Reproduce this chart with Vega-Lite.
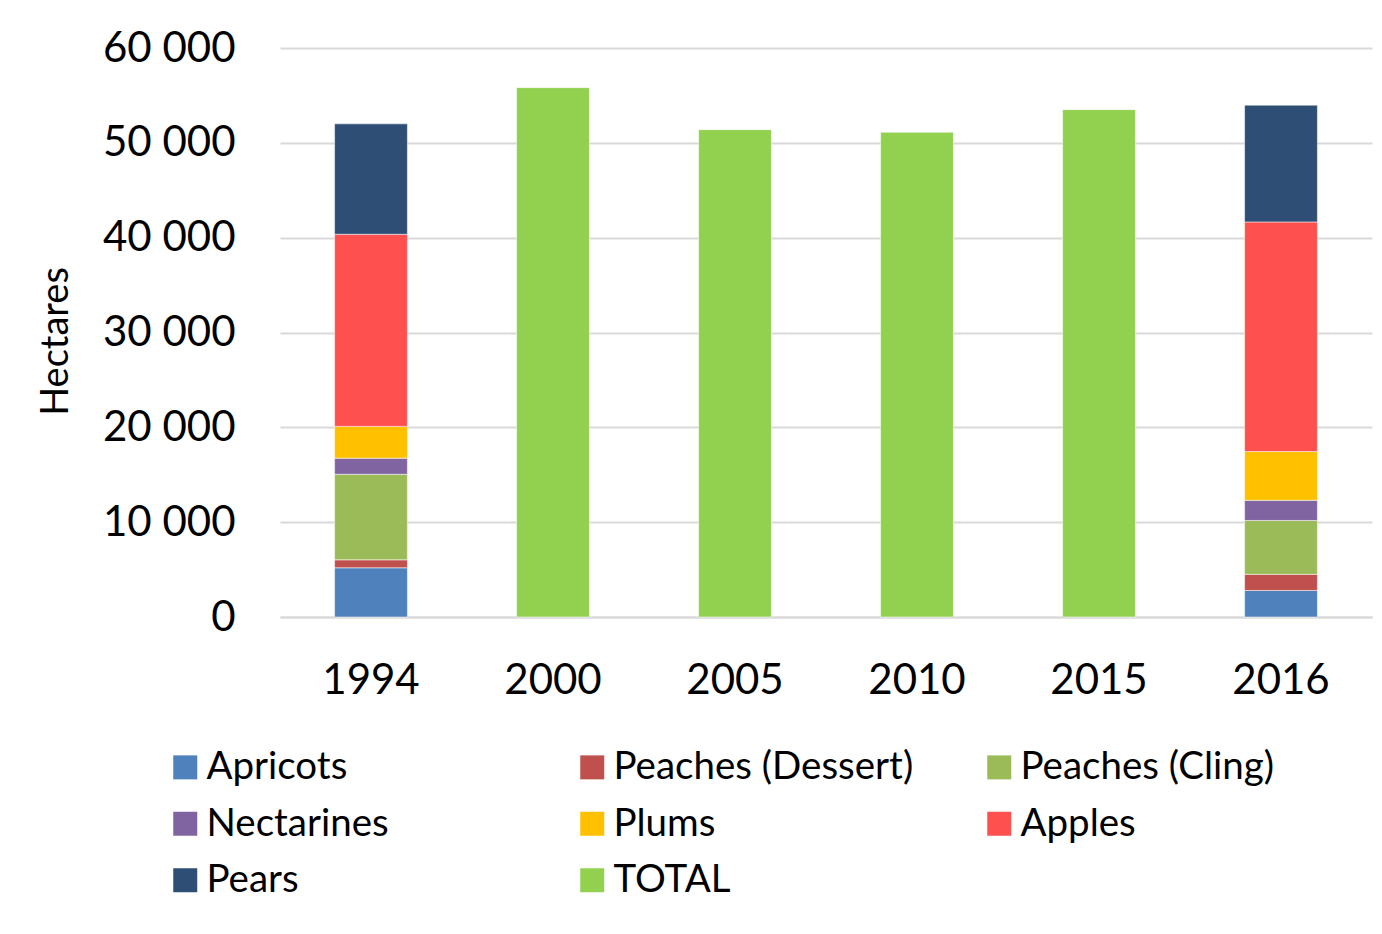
{
  "$schema": "https://vega.github.io/schema/vega-lite/v6.json",
  "width": 1092,
  "height": 569,
  "autosize": {"type": "none"},
  "padding": {"left": 280, "top": 48, "right": 10, "bottom": 317},
  "background": "white",
  "config": {
    "font": "Lato",
    "view": {"stroke": null}
  },
  "data": {
    "values": [
      {"year": "1994", "fruit": "Apricots", "ha": 5190},
      {"year": "1994", "fruit": "Peaches (Dessert)", "ha": 840},
      {"year": "1994", "fruit": "Peaches (Cling)", "ha": 9020},
      {"year": "1994", "fruit": "Nectarines", "ha": 1700},
      {"year": "1994", "fruit": "Plums", "ha": 3350},
      {"year": "1994", "fruit": "Apples", "ha": 20260},
      {"year": "1994", "fruit": "Pears", "ha": 11640},
      {"year": "2000", "fruit": "TOTAL", "ha": 55820},
      {"year": "2005", "fruit": "TOTAL", "ha": 51390},
      {"year": "2010", "fruit": "TOTAL", "ha": 51110},
      {"year": "2015", "fruit": "TOTAL", "ha": 53500},
      {"year": "2016", "fruit": "Apricots", "ha": 2800},
      {"year": "2016", "fruit": "Peaches (Dessert)", "ha": 1700},
      {"year": "2016", "fruit": "Peaches (Cling)", "ha": 5680},
      {"year": "2016", "fruit": "Nectarines", "ha": 2120},
      {"year": "2016", "fruit": "Plums", "ha": 5150},
      {"year": "2016", "fruit": "Apples", "ha": 24210},
      {"year": "2016", "fruit": "Pears", "ha": 12310}
    ]
  },
  "transform": [
    {"calculate": "datum.fruit == 'Apricots' ? 0 : datum.fruit == 'Peaches (Dessert)' ? 1 : datum.fruit == 'Peaches (Cling)' ? 2 : datum.fruit == 'Nectarines' ? 3 : datum.fruit == 'Plums' ? 4 : datum.fruit == 'Apples' ? 5 : datum.fruit == 'Pears' ? 6 : 7", "as": "stackOrder"}
  ],
  "mark": {"type": "bar", "stroke": "white", "strokeWidth": 1, "strokeOpacity": 0.5},
  "encoding": {
    "x": {
      "field": "year",
      "type": "nominal",
      "scale": {"paddingInner": 0.6, "paddingOuter": 0.3},
      "axis": {
        "title": null,
        "labelAngle": 0,
        "labelFontSize": 42,
        "labelColor": "black",
        "labelPadding": 43,
        "ticks": false,
        "domainColor": "#d9d9d9",
        "domainWidth": 2
      }
    },
    "y": {
      "field": "ha",
      "type": "quantitative",
      "stack": "zero",
      "scale": {"domain": [0, 60000]},
      "axis": {
        "title": "Hectares",
        "titleFontSize": 38,
        "titleFontWeight": "normal",
        "titleColor": "black",
        "titleX": -205,
        "titleY": 293,
        "values": [0, 10000, 20000, 30000, 40000, 50000, 60000],
        "labelExpr": "replace(format(datum.value, ','), ',', ' ')",
        "labelFontSize": 42,
        "labelColor": "black",
        "labelPadding": 45,
        "ticks": false,
        "domain": false,
        "gridColor": "#d9d9d9",
        "gridWidth": 2
      }
    },
    "order": {"field": "stackOrder", "type": "quantitative"},
    "color": {
      "field": "fruit",
      "type": "nominal",
      "sort": ["Apricots", "Peaches (Dessert)", "Peaches (Cling)", "Nectarines", "Plums", "Apples", "Pears", "TOTAL"],
      "scale": {
        "domain": ["Apricots", "Peaches (Dessert)", "Peaches (Cling)", "Nectarines", "Plums", "Apples", "Pears", "TOTAL"],
        "range": ["#4f81bd", "#c0504d", "#9bbb59", "#8064a2", "#ffc000", "#ff5050", "#2e4e76", "#92d050"]
      },
      "legend": {
        "title": null,
        "orient": "none",
        "direction": "horizontal",
        "legendX": -114,
        "legendY": 700,
        "columns": 3,
        "gridAlign": "all",
        "columnPadding": 66,
        "rowPadding": 17.5,
        "symbolType": "square",
        "symbolSize": 576,
        "symbolStrokeWidth": 0,
        "labelFontSize": 38.5,
        "labelColor": "black",
        "labelOffset": 2,
        "labelLimit": 500
      }
    }
  }
}
